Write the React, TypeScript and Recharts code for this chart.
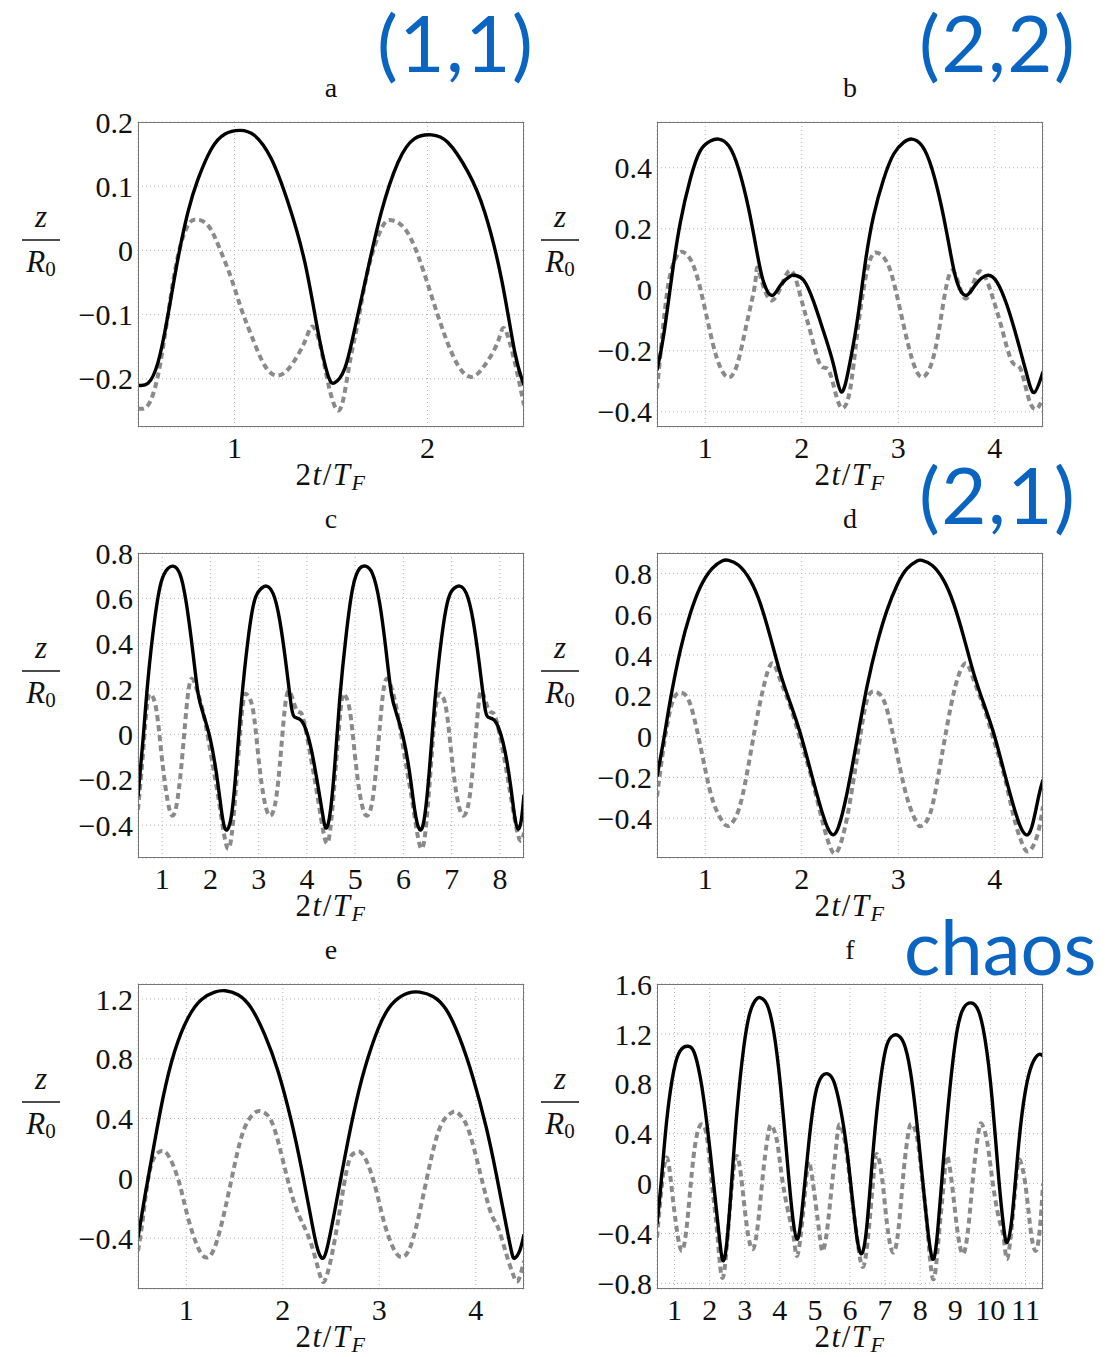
import React from 'react';
import { LineChart, Line, XAxis, YAxis, CartesianGrid } from 'recharts';

type Pt = [number, number];

// a — (1,1) mode
const A_SOLID: Pt[] = [
  [0.5, -0.21], [0.552, -0.207], [0.604, -0.174], [0.655, -0.101], [0.707, -0.013],
  [0.759, 0.06], [0.811, 0.111], [0.88, 0.158], [0.949, 0.181], [1.027, 0.187],
  [1.104, 0.179], [1.19, 0.143], [1.277, 0.075], [1.364, -0.018], [1.433, -0.127],
  [1.484, -0.194], [1.519, -0.206], [1.571, -0.184], [1.623, -0.122], [1.692, -0.028],
  [1.761, 0.06], [1.847, 0.137], [1.933, 0.174], [2.02, 0.18], [2.106, 0.168],
  [2.21, 0.122], [2.296, 0.06], [2.383, -0.044], [2.452, -0.158], [2.5, -0.21],
];
const A_DASH: Pt[] = [
  [0.5, -0.246], [0.552, -0.241], [0.604, -0.194], [0.655, -0.101], [0.707, -0.008],
  [0.759, 0.039], [0.802, 0.048], [0.863, 0.039], [0.923, 0.003], [0.984, -0.044],
  [1.035, -0.091], [1.087, -0.132], [1.156, -0.179], [1.225, -0.195], [1.294, -0.179],
  [1.364, -0.142], [1.398, -0.119], [1.433, -0.135], [1.47, -0.185], [1.5, -0.225],
  [1.533, -0.249], [1.565, -0.23], [1.6, -0.17], [1.64, -0.111], [1.692, -0.03],
  [1.761, 0.034], [1.813, 0.047], [1.882, 0.034], [1.951, -0.008], [2.02, -0.07],
  [2.089, -0.132], [2.158, -0.179], [2.227, -0.197], [2.296, -0.179], [2.365, -0.142],
  [2.4, -0.122], [2.452, -0.174], [2.5, -0.241],
];

// b — (2,2) mode
const B_SOLID: Pt[] = [
  [0.5, -0.264], [0.569, -0.149], [0.655, 0.047], [0.742, 0.221], [0.845, 0.363],
  [0.949, 0.456], [1.053, 0.488], [1.139, 0.494], [1.243, 0.472], [1.346, 0.396],
  [1.45, 0.265], [1.536, 0.123], [1.605, 0.025], [1.692, -0.019], [1.778, 0.014],
  [1.882, 0.045], [1.934, 0.047], [2.02, 0.031], [2.124, -0.04], [2.227, -0.138],
  [2.331, -0.248], [2.41, -0.335], [2.486, -0.26], [2.573, -0.106], [2.659, 0.09],
  [2.745, 0.243], [2.849, 0.363], [2.953, 0.445], [3.056, 0.483], [3.142, 0.494],
  [3.246, 0.472], [3.35, 0.396], [3.453, 0.265], [3.54, 0.123], [3.609, 0.025],
  [3.702, -0.019], [3.799, 0.016], [3.92, 0.047], [4.023, 0.025], [4.127, -0.051],
  [4.231, -0.16], [4.334, -0.28], [4.41, -0.337], [4.5, -0.269],
];
const B_DASH: Pt[] = [
  [0.5, -0.324], [0.552, -0.16], [0.621, 0.025], [0.707, 0.112], [0.776, 0.123],
  [0.863, 0.09], [0.949, 0.003], [1.035, -0.117], [1.122, -0.226], [1.225, -0.286],
  [1.329, -0.247], [1.433, -0.106], [1.519, 0.025], [1.553, 0.063], [1.692, -0.035],
  [1.864, 0.061], [1.985, -0.019], [2.089, -0.138], [2.193, -0.247], [2.279, -0.264],
  [2.365, -0.356], [2.434, -0.387], [2.503, -0.324], [2.573, -0.149], [2.659, 0.036],
  [2.728, 0.112], [2.787, 0.121], [2.883, 0.09], [2.97, 0.003], [3.056, -0.117],
  [3.142, -0.226], [3.236, -0.286], [3.339, -0.247], [3.436, -0.106], [3.557, 0.063],
  [3.695, -0.029], [3.833, 0.058], [3.972, -0.019], [4.075, -0.128], [4.179, -0.236],
  [4.265, -0.258], [4.351, -0.356], [4.431, -0.391], [4.5, -0.356],
];

// c
const C_SOLID: Pt[] = [
  [0.5, -0.273], [0.604, -0.023], [0.707, 0.241], [0.845, 0.505], [0.984, 0.674],
  [1.122, 0.732], [1.225, 0.742], [1.364, 0.71], [1.502, 0.578], [1.64, 0.358],
  [1.744, 0.182], [1.847, 0.094], [1.985, -0.009], [2.124, -0.17], [2.227, -0.332],
  [2.317, -0.42], [2.434, -0.361], [2.538, -0.141], [2.642, 0.138], [2.78, 0.417],
  [2.918, 0.593], [3.056, 0.644], [3.16, 0.654], [3.298, 0.622], [3.436, 0.505],
  [3.574, 0.299], [3.678, 0.123], [3.747, 0.076], [3.851, 0.067], [3.954, 0.035],
  [4.092, -0.067], [4.231, -0.229], [4.334, -0.361], [4.389, -0.412], [4.472, -0.361],
  [4.576, -0.141], [4.68, 0.153], [4.818, 0.446], [4.956, 0.652], [5.094, 0.732],
  [5.218, 0.742], [5.357, 0.71], [5.509, 0.578], [5.647, 0.358], [5.75, 0.182],
  [5.854, 0.094], [5.992, -0.009], [6.13, -0.17], [6.234, -0.332], [6.338, -0.42],
  [6.441, -0.361], [6.545, -0.141], [6.649, 0.138], [6.787, 0.417], [6.925, 0.593],
  [7.049, 0.644], [7.167, 0.654], [7.305, 0.622], [7.443, 0.505], [7.581, 0.299],
  [7.685, 0.123], [7.754, 0.076], [7.857, 0.067], [7.961, 0.035], [8.099, -0.067],
  [8.224, -0.229], [8.307, -0.361], [8.376, -0.417], [8.445, -0.376], [8.5, -0.266],
];
const C_DASH: Pt[] = [
  [0.5, -0.332], [0.604, -0.082], [0.693, 0.138], [0.776, 0.175], [0.88, 0.109],
  [0.984, -0.082], [1.087, -0.258], [1.191, -0.354], [1.294, -0.317], [1.398, -0.141],
  [1.502, 0.109], [1.605, 0.244], [1.744, 0.182], [1.882, 0.065], [2.054, -0.141],
  [2.193, -0.317], [2.351, -0.5], [2.469, -0.39], [2.573, -0.112], [2.676, 0.138],
  [2.766, 0.175], [2.883, 0.109], [2.987, -0.082], [3.091, -0.258], [3.208, -0.354],
  [3.332, -0.317], [3.436, -0.141], [3.54, 0.109], [3.643, 0.189], [3.782, 0.109],
  [3.885, 0.094], [3.989, 0.006], [4.127, -0.156], [4.265, -0.332], [4.403, -0.478],
  [4.507, -0.376], [4.611, -0.112], [4.714, 0.138], [4.783, 0.175], [4.887, 0.109],
  [4.991, -0.082], [5.094, -0.258], [5.212, -0.354], [5.336, -0.317], [5.44, -0.141],
  [5.543, 0.109], [5.647, 0.244], [5.785, 0.182], [5.902, 0.065], [6.061, -0.141],
  [6.2, -0.317], [6.358, -0.5], [6.476, -0.39], [6.58, -0.112], [6.683, 0.138],
  [6.787, 0.175], [6.89, 0.109], [6.994, -0.082], [7.097, -0.258], [7.215, -0.354],
  [7.339, -0.317], [7.443, -0.141], [7.547, 0.109], [7.63, 0.189], [7.768, 0.109],
  [7.878, 0.091], [7.996, -0.001], [8.134, -0.156], [8.272, -0.332], [8.41, -0.464],
  [8.5, -0.434],
];

// d — (2,1) mode
const D_SOLID: Pt[] = [
  [0.5, -0.196], [0.569, -0.016], [0.638, 0.179], [0.742, 0.424], [0.845, 0.603],
  [0.949, 0.733], [1.07, 0.823], [1.174, 0.861], [1.243, 0.864], [1.346, 0.84],
  [1.467, 0.766], [1.571, 0.652], [1.674, 0.489], [1.778, 0.31], [1.882, 0.163],
  [1.985, 0.016], [2.089, -0.163], [2.193, -0.342], [2.262, -0.44], [2.32, -0.481],
  [2.383, -0.44], [2.469, -0.277], [2.573, -0.016], [2.676, 0.245], [2.78, 0.456],
  [2.883, 0.619], [2.987, 0.742], [3.091, 0.823], [3.194, 0.861], [3.246, 0.864],
  [3.35, 0.84], [3.471, 0.766], [3.574, 0.652], [3.678, 0.489], [3.782, 0.31],
  [3.885, 0.163], [3.989, 0.016], [4.092, -0.163], [4.196, -0.342], [4.265, -0.44],
  [4.324, -0.481], [4.386, -0.44], [4.455, -0.293], [4.5, -0.212],
];
const D_DASH: Pt[] = [
  [0.5, -0.293], [0.569, -0.049], [0.655, 0.163], [0.742, 0.215], [0.828, 0.179],
  [0.914, 0.033], [1.001, -0.163], [1.087, -0.326], [1.191, -0.424], [1.26, -0.432],
  [1.346, -0.359], [1.433, -0.179], [1.519, 0.049], [1.605, 0.245], [1.692, 0.359],
  [1.778, 0.277], [1.882, 0.147], [1.985, -0.016], [2.089, -0.179], [2.193, -0.375],
  [2.279, -0.522], [2.355, -0.571], [2.434, -0.473], [2.503, -0.31], [2.59, -0.049],
  [2.676, 0.179], [2.763, 0.22], [2.849, 0.179], [2.935, 0.033], [3.022, -0.163],
  [3.108, -0.326], [3.194, -0.424], [3.246, -0.437], [3.332, -0.375], [3.419, -0.179],
  [3.505, 0.049], [3.591, 0.245], [3.695, 0.359], [3.782, 0.277], [3.885, 0.147],
  [3.989, -0.016], [4.092, -0.179], [4.196, -0.391], [4.282, -0.522], [4.351, -0.562],
  [4.438, -0.489], [4.5, -0.342],
];

// e
const E_SOLID: Pt[] = [
  [0.5, -0.396], [0.569, -0.129], [0.655, 0.182], [0.759, 0.538], [0.88, 0.85],
  [1.018, 1.073], [1.156, 1.195], [1.294, 1.246], [1.405, 1.255], [1.536, 1.228],
  [1.674, 1.139], [1.813, 0.961], [1.951, 0.717], [2.089, 0.383], [2.193, 0.071],
  [2.279, -0.218], [2.348, -0.441], [2.4, -0.53], [2.452, -0.485], [2.538, -0.218],
  [2.642, 0.138], [2.763, 0.516], [2.883, 0.806], [3.022, 1.05], [3.16, 1.184],
  [3.298, 1.239], [3.419, 1.246], [3.557, 1.217], [3.695, 1.128], [3.833, 0.939],
  [3.972, 0.672], [4.11, 0.338], [4.213, 0.027], [4.3, -0.263], [4.369, -0.485],
  [4.403, -0.534], [4.455, -0.485], [4.5, -0.374],
];
const E_DASH: Pt[] = [
  [0.5, -0.485], [0.552, -0.263], [0.621, 0.049], [0.707, 0.171], [0.776, 0.18],
  [0.845, 0.116], [0.932, -0.04], [1.018, -0.263], [1.122, -0.463], [1.208, -0.53],
  [1.294, -0.463], [1.398, -0.218], [1.502, 0.093], [1.605, 0.338], [1.709, 0.438],
  [1.771, 0.449], [1.864, 0.405], [1.951, 0.249], [2.037, 0.027], [2.124, -0.174],
  [2.21, -0.307], [2.296, -0.441], [2.383, -0.641], [2.434, -0.685], [2.503, -0.53],
  [2.59, -0.218], [2.676, 0.093], [2.745, 0.171], [2.807, 0.175], [2.883, 0.093],
  [2.97, -0.085], [3.056, -0.307], [3.16, -0.485], [3.246, -0.525], [3.332, -0.441],
  [3.436, -0.174], [3.54, 0.138], [3.643, 0.36], [3.747, 0.438], [3.809, 0.44],
  [3.902, 0.36], [3.989, 0.182], [4.075, -0.04], [4.162, -0.24], [4.231, -0.329],
  [4.317, -0.507], [4.386, -0.641], [4.438, -0.685], [4.5, -0.552],
];

// f — chaotic regime
const F_SOLID: Pt[] = [
  [0.5, -0.325], [0.614, -0.005], [0.737, 0.395], [0.88, 0.741], [1.07, 1.008],
  [1.26, 1.093], [1.383, 1.101], [1.545, 1.061], [1.735, 0.848], [1.925, 0.475],
  [2.115, -0.005], [2.257, -0.379], [2.371, -0.613], [2.495, -0.459], [2.637, 0.048],
  [2.78, 0.581], [2.97, 1.088], [3.16, 1.381], [3.35, 1.483], [3.464, 1.488],
  [3.635, 1.435], [3.825, 1.221], [4.015, 0.795], [4.205, 0.208], [4.347, -0.219],
  [4.49, -0.445], [4.632, -0.219], [4.822, 0.315], [5.012, 0.715], [5.202, 0.861],
  [5.364, 0.88], [5.535, 0.821], [5.725, 0.608], [5.915, 0.261], [6.105, -0.219],
  [6.228, -0.485], [6.342, -0.56], [6.485, -0.325], [6.675, 0.315], [6.865, 0.821],
  [7.055, 1.115], [7.244, 1.189], [7.359, 1.189], [7.53, 1.128], [7.72, 0.901],
  [7.91, 0.475], [8.1, -0.059], [8.242, -0.432], [8.356, -0.605], [8.48, -0.432],
  [8.669, 0.208], [8.859, 0.795], [9.049, 1.221], [9.24, 1.408], [9.458, 1.448],
  [9.667, 1.381], [9.857, 1.141], [10.047, 0.688], [10.237, 0.048], [10.38, -0.352],
  [10.474, -0.472], [10.617, -0.272], [10.807, 0.315], [10.997, 0.741], [11.187, 0.955],
  [11.377, 1.035], [11.5, 1.021],
];
const F_DASH: Pt[] = [
  [0.5, -0.432], [0.642, -0.005], [0.785, 0.208], [0.927, -0.059], [1.07, -0.379],
  [1.212, -0.539], [1.355, -0.325], [1.497, 0.101], [1.64, 0.395], [1.782, 0.475],
  [1.925, 0.368], [2.067, -0.005], [2.21, -0.379], [2.352, -0.752], [2.495, -0.485],
  [2.637, -0.005], [2.78, 0.221], [2.922, -0.005], [3.065, -0.352], [3.236, -0.525],
  [3.397, -0.272], [3.54, 0.128], [3.682, 0.421], [3.777, 0.461], [3.92, 0.341],
  [4.062, 0.048], [4.252, -0.245], [4.395, -0.432], [4.49, -0.579], [4.632, -0.325],
  [4.775, 0.101], [4.87, 0.141], [5.012, -0.139], [5.155, -0.459], [5.231, -0.539],
  [5.345, -0.379], [5.487, -0.005], [5.611, 0.315], [5.706, 0.475], [5.867, 0.315],
  [6.01, -0.005], [6.2, -0.432], [6.371, -0.667], [6.532, -0.379], [6.675, 0.075],
  [6.77, 0.235], [6.912, 0.048], [7.055, -0.325], [7.226, -0.552], [7.387, -0.352],
  [7.53, 0.101], [7.672, 0.421], [7.767, 0.475], [7.91, 0.368], [8.052, 0.048],
  [8.194, -0.325], [8.365, -0.765], [8.527, -0.432], [8.669, -0.005], [8.764, 0.221],
  [8.907, -0.005], [9.049, -0.352], [9.22, -0.565], [9.382, -0.325], [9.524, 0.101],
  [9.667, 0.421], [9.762, 0.475], [9.905, 0.341], [10.047, 0.048], [10.237, -0.272],
  [10.38, -0.432], [10.474, -0.605], [10.617, -0.325], [10.759, 0.101], [10.854, 0.181],
  [10.997, -0.005], [11.139, -0.352], [11.282, -0.539], [11.405, -0.379], [11.5, -0.005],
];

const TICKS_2 = [1, 2];
const TICKS_4 = [1, 2, 3, 4];
const TICKS_8 = [1, 2, 3, 4, 5, 6, 7, 8];
const TICKS_11 = [1, 2, 3, 4, 5, 6, 7, 8, 9, 10, 11];

const A_YTICKS = [-0.2, -0.1, 0, 0.1, 0.2];
const B_YTICKS = [-0.4, -0.2, 0, 0.2, 0.4];
const C_YTICKS = [-0.4, -0.2, 0, 0.2, 0.4, 0.6, 0.8];
const D_YTICKS = [-0.4, -0.2, 0, 0.2, 0.4, 0.6, 0.8];
const E_YTICKS = [-0.4, 0, 0.4, 0.8, 1.2];
const F_YTICKS = [-0.8, -0.4, 0, 0.4, 0.8, 1.2, 1.6];

const SERIF = '"Liberation Serif", "Times New Roman", "DejaVu Serif", serif';
const BLUE = '#0a64c2';
const PLOT_W = 386;
const PLOT_H = 305;
const AXIS_W = 80;
const PAD = 24;
const AXIS_H = 60;

type PanelDef = {
  key: string;
  left: number;
  top: number;
  xDomain: [number, number];
  yDomain: [number, number];
  xTicks: number[];
  yTicks: number[];
  solid: Pt[];
  dash: Pt[];
};

const PANELS: PanelDef[] = [
  { key: 'a', left: 138, top: 122, xDomain: [0.5, 2.5], yDomain: [-0.275, 0.2], xTicks: TICKS_2, yTicks: A_YTICKS, solid: A_SOLID, dash: A_DASH },
  { key: 'b', left: 657, top: 122, xDomain: [0.5, 4.5], yDomain: [-0.45, 0.55], xTicks: TICKS_4, yTicks: B_YTICKS, solid: B_SOLID, dash: B_DASH },
  { key: 'c', left: 138, top: 553, xDomain: [0.5, 8.5], yDomain: [-0.545, 0.8], xTicks: TICKS_8, yTicks: C_YTICKS, solid: C_SOLID, dash: C_DASH },
  { key: 'd', left: 657, top: 553, xDomain: [0.5, 4.5], yDomain: [-0.595, 0.9], xTicks: TICKS_4, yTicks: D_YTICKS, solid: D_SOLID, dash: D_DASH },
  { key: 'e', left: 138, top: 984, xDomain: [0.5, 4.5], yDomain: [-0.74, 1.3], xTicks: TICKS_4, yTicks: E_YTICKS, solid: E_SOLID, dash: E_DASH },
  { key: 'f', left: 657, top: 984, xDomain: [0.5, 11.5], yDomain: [-0.845, 1.6], xTicks: TICKS_11, yTicks: F_YTICKS, solid: F_SOLID, dash: F_DASH },
];

const MODES = [
  { text: '(1,1)', x: 377, y: 72, size: 78 },
  { text: '(2,2)', x: 919, y: 72, size: 78 },
  { text: '(2,1)', x: 919, y: 524, size: 78 },
  { text: 'chaos', x: 904, y: 975, size: 76 },
];

const toRows = (pts: Pt[]) => pts.map(([t, z]) => ({ t, z }));
const fmt = (v: number) => (v < 0 ? `\u2212${Math.abs(v)}` : String(v));
const tickStyle = { fontSize: 30, fill: '#111', fontFamily: SERIF };

function Panel({ p }: { p: PanelDef }) {
  return (
    <div style={{ position: 'absolute', left: p.left - AXIS_W, top: p.top - PAD }}>
      <LineChart
        width={AXIS_W + PLOT_W + PAD}
        height={PAD + PLOT_H + AXIS_H}
        margin={{ top: PAD, right: PAD, bottom: 0, left: 0 }}
      >
        <CartesianGrid stroke="#b4b4b4" strokeDasharray="1 3" />
        <XAxis
          dataKey="t"
          type="number"
          domain={p.xDomain}
          ticks={p.xTicks}
          allowDataOverflow
          height={AXIS_H}
          axisLine={false}
          tickLine={false}
          tickSize={0}
          tickMargin={10}
          tick={tickStyle}
          interval={0}
        />
        <YAxis
          type="number"
          domain={p.yDomain}
          ticks={p.yTicks}
          allowDataOverflow
          width={AXIS_W}
          axisLine={false}
          tickLine={false}
          tickSize={0}
          tickMargin={5}
          tick={tickStyle}
          tickFormatter={fmt}
          interval={0}
        />
        <Line
          data={toRows(p.dash)}
          dataKey="z"
          type="natural"
          stroke="#8a8a8a"
          strokeWidth={4}
          strokeDasharray="6 4"
          dot={false}
          activeDot={false}
          isAnimationActive={false}
        />
        <Line
          data={toRows(p.solid)}
          dataKey="z"
          type="natural"
          stroke="#000"
          strokeWidth={3.4}
          dot={false}
          activeDot={false}
          isAnimationActive={false}
        />
      </LineChart>
      <div
        style={{
          position: 'absolute',
          left: AXIS_W,
          top: PAD,
          width: PLOT_W,
          height: PLOT_H,
          border: '1px solid #767676',
          boxSizing: 'border-box',
          pointerEvents: 'none',
        }}
      />
    </div>
  );
}

function Labels() {
  return (
    <svg
      width={1113}
      height={1357}
      style={{ position: 'absolute', left: 0, top: 0, pointerEvents: 'none' }}
      fontFamily={SERIF}
      fill="#111"
    >
      {PANELS.map((p) => {
        const cx = p.left + PLOT_W / 2;
        const fx = p.left - 97;
        const bar = p.top + 118;
        return (
          <g key={p.key}>
            <text x={cx} y={p.top - 25} textAnchor="middle" fontSize={28}>
              {p.key}
            </text>
            <text x={cx} y={p.top + PLOT_H + 58} textAnchor="middle" fontSize={31} letterSpacing={1.5}>
              2<tspan fontStyle="italic">t</tspan>/<tspan fontStyle="italic">T</tspan>
              <tspan fontStyle="italic" fontSize={22} dy={5}>F</tspan>
            </text>
            <text x={fx} y={bar - 13} textAnchor="middle" fontSize={31} fontStyle="italic">
              z
            </text>
            <line x1={fx - 19} x2={fx + 19} y1={bar} y2={bar} stroke="#111" strokeWidth={1.4} />
            <text x={fx} y={bar + 32} textAnchor="middle" fontSize={31}>
              <tspan fontStyle="italic">R</tspan>
              <tspan fontSize={21} dy={4}>0</tspan>
            </text>
          </g>
        );
      })}
      {MODES.map((m) => (
        <text
          key={m.text}
          x={m.x}
          y={m.y}
          fontSize={m.size}
          letterSpacing={m.size === 78 ? 1.5 : 0}
          fill={BLUE}
          fontFamily="Lato, 'Open Sans', sans-serif"
        >
          {m.text}
        </text>
      ))}
    </svg>
  );
}

export default function App() {
  return (
    <div style={{ position: 'absolute', left: 0, top: 0, width: 1113, height: 1357, background: '#fff' }}>
      {PANELS.map((p) => (
        <Panel key={p.key} p={p} />
      ))}
      <Labels />
    </div>
  );
}
